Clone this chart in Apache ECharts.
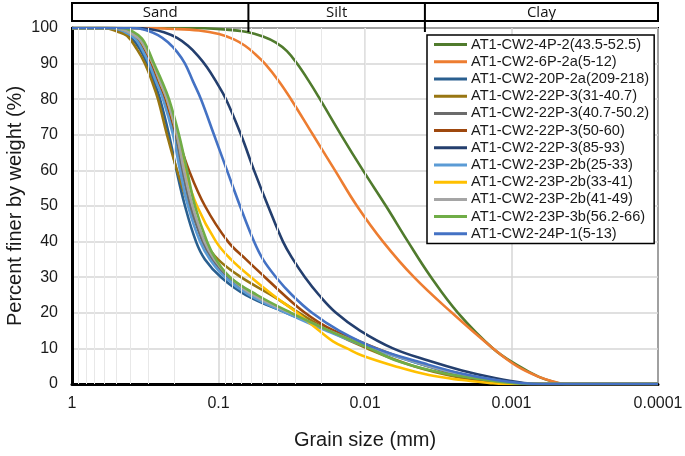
<!DOCTYPE html>
<html><head><meta charset="utf-8">
<script src="https://cdn.jsdelivr.net/npm/echarts/dist/echarts.min.js"></script>
<style>html,body{margin:0;padding:0;background:#fff}#c{width:685px;height:456px}</style>
</head><body><div id="c"></div>
<script>
// ---- data (grain size in mm, percent finer by weight) ----
const seriesNames = [
  'AT1-CW2-4P-2(43.5-52.5)','AT1-CW2-6P-2a(5-12)','AT1-CW2-20P-2a(209-218)','AT1-CW2-22P-3(31-40.7)',
  'AT1-CW2-22P-3(40.7-50.2)','AT1-CW2-22P-3(50-60)','AT1-CW2-22P-3(85-93)','AT1-CW2-23P-2b(25-33)',
  'AT1-CW2-23P-2b(33-41)','AT1-CW2-23P-2b(41-49)','AT1-CW2-23P-3b(56.2-66)','AT1-CW2-24P-1(5-13)'
];
// 4P-2(43.5-52.5)
const s01_size = [1, 0.159, 0.0918, 0.0639, 0.0497, 0.0405, 0.0341, 0.0291, 0.0241, 0.0203, 0.01458, 0.01032, 0.00719, 0.00509, 0.00354, 0.00232, 0.001337, 0.000889, 0.00065, 0.000505, 0.000438, 0.0001];
const s01_pct  = [100, 100, 99.6, 98.9, 97.6, 95.9, 93.5, 90, 85, 80, 70, 60, 50, 40, 30, 20, 10, 5, 2, 0.5, 0, 0];
// 6P-2a(5-12)
const s02_size = [1, 0.298, 0.2177, 0.1358, 0.0992, 0.0784, 0.0659, 0.0563, 0.0482, 0.0386, 0.032, 0.02265, 0.01603, 0.01134, 0.00754, 0.00463, 0.00255, 0.001337, 0.000917, 0.00065, 0.000497, 0.000425, 0.0001];
const s02_pct  = [100, 100, 99.8, 99.3, 98.3, 96.8, 95, 92.7, 90, 85, 80, 70, 60, 50, 40, 30, 20, 10, 5, 2, 0.5, 0, 0];
// 20P-2a(209-218)
const s03_size = [1, 0.577, 0.4628, 0.3895, 0.3433, 0.3076, 0.2757, 0.2508, 0.2177, 0.1935, 0.1693, 0.1424, 0.1237, 0.0961, 0.0649, 0.0346, 0.0245, 0.01552, 0.00868, 0.00442, 0.002355, 0.001317, 0.000961, 0.00076, 0.0001];
const s03_pct  = [100, 100, 99, 97, 94, 90, 85, 80, 70, 60, 50, 40, 35, 30, 25, 20, 17.5, 14, 10, 6, 3, 1, 0.2, 0, 0];
// 22P-3(31-40.7)
const s04_size = [1, 0.6046, 0.493, 0.4214, 0.36, 0.3176, 0.2844, 0.2588, 0.2246, 0.1919, 0.159, 0.1237, 0.1008, 0.0702, 0.0438, 0.0282, 0.0176, 0.0097, 0.00463, 0.002355, 0.001317, 0.000961, 0.0001];
const s04_pct  = [100, 100, 99, 97.8, 94, 90, 85, 80, 70, 60, 50, 40, 35, 30, 25, 20, 15, 10, 5, 2, 0.5, 0, 0];
// 22P-3(40.7-50.2)
const s05_size = [1, 0.5249, 0.428, 0.36, 0.3225, 0.2888, 0.2588, 0.2318, 0.1981, 0.1774, 0.1553, 0.1286, 0.1099, 0.0861, 0.0591, 0.033, 0.01789, 0.00882, 0.00435, 0.00232, 0.001276, 0.000932, 0.000736, 0.0001];
const s05_pct  = [100, 100, 99, 97, 94, 90, 85, 80, 70, 60, 50, 40, 35, 30, 25, 20, 15, 10, 6, 3, 1, 0.2, 0, 0];
// 22P-3(50-60)
const s06_size = [1, 0.5085, 0.4147, 0.3488, 0.3176, 0.2888, 0.2588, 0.2318, 0.1919, 0.159, 0.1237, 0.0861, 0.0649, 0.0482, 0.0357, 0.0257, 0.01817, 0.01099, 0.00624, 0.00366, 0.00211, 0.001317, 0.001008, 0.0001];
const s06_pct  = [100, 100, 99, 97, 94, 90, 85, 80, 70, 60, 50, 40, 35, 30, 25, 20, 16, 12, 8, 4.9, 2, 0.5, 0, 0];
// 22P-3(85-93)
const s07_size = [1, 0.36, 0.298, 0.2355, 0.1919, 0.1615, 0.138, 0.1198, 0.104, 0.0889, 0.0702, 0.0572, 0.0459, 0.0363, 0.031, 0.0257, 0.0206, 0.01578, 0.01082, 0.00644, 0.00366, 0.00218, 0.001276, 0.000822, 0.0006, 0.0001];
const s07_pct  = [100, 100, 99.7, 98.8, 97.2, 95, 92.2, 89, 85, 80, 70, 60, 50, 40, 35, 30, 25, 20, 15, 10, 6.5, 3.8, 1.6, 0.3, 0, 0];
// 23P-2b(25-33)
const s08_size = [1, 0.5417, 0.4417, 0.3715, 0.333, 0.298, 0.2671, 0.2392, 0.2045, 0.1831, 0.1615, 0.1337, 0.1143, 0.0903, 0.0619, 0.0346, 0.01846, 0.0091, 0.00449, 0.00239, 0.001317, 0.000961, 0.00076, 0.0001];
const s08_pct  = [100, 100, 99, 97, 94, 90, 85, 80, 70, 60, 50, 40, 35, 30, 25, 20, 15, 10, 6, 3, 1, 0.2, 0, 0];
// 23P-2b(33-41)
const s09_size = [1, 0.5085, 0.4147, 0.3488, 0.3126, 0.28, 0.2508, 0.2246, 0.1919, 0.1693, 0.1402, 0.104, 0.0822, 0.06, 0.0425, 0.0291, 0.0206, 0.01654, 0.01327, 0.01048, 0.00624, 0.00366, 0.00218, 0.001424, 0.001125, 0.0001];
const s09_pct  = [100, 100, 99, 97, 94, 90, 85, 80, 70, 60, 50, 40, 35, 30, 25, 20, 15, 12, 10, 8, 5, 2.5, 1.1, 0.3, 0, 0];
// 23P-2b(41-49)
const s10_size = [1, 0.5085, 0.4147, 0.3488, 0.3126, 0.28, 0.2508, 0.2246, 0.1919, 0.172, 0.1505, 0.1246, 0.1065, 0.0835, 0.0581, 0.0325, 0.0176, 0.00868, 0.00428, 0.00228, 0.001256, 0.000917, 0.000725, 0.0001];
const s10_pct  = [100, 100, 99, 97, 94, 90, 85, 80, 70, 60, 50, 40, 35, 30, 25, 20, 15, 10, 6, 3, 1, 0.2, 0, 0];
// 23P-3b(56.2-66)
const s11_size = [1, 0.4628, 0.3835, 0.333, 0.3029, 0.2757, 0.2429, 0.2177, 0.1861, 0.1641, 0.1447, 0.1198, 0.104, 0.0835, 0.0546, 0.032, 0.0176, 0.00984, 0.00586, 0.00289, 0.001424, 0.000961, 0.00076, 0.0001];
const s11_pct  = [100, 100, 99, 97, 94, 90, 85, 80, 70, 60, 50, 40, 35, 30, 25, 20, 15, 10.5, 6.3, 3, 1, 0.2, 0, 0];
// 24P-1(5-13)
const s12_size = [1, 0.3774, 0.3076, 0.2588, 0.2212, 0.1919, 0.1693, 0.1493, 0.1317, 0.1073, 0.0875, 0.0713, 0.0572, 0.0497, 0.0405, 0.0315, 0.023, 0.01505, 0.0084, 0.00396, 0.00228, 0.001276, 0.000822, 0.00065, 0.0001];
const s12_pct  = [100, 100, 99.3, 98, 96, 93.3, 90, 85, 80, 70, 60, 50, 40, 35, 30, 25, 20, 15, 10, 5.8, 3.1, 1.1, 0.2, 0, 0];

const yTicks = [0, 10, 20, 30, 40, 50, 60, 70, 80, 90, 100];
const xTickLabels = ['1', '0.1', '0.01', '0.001', '0.0001'];
const classNames = ['Sand', 'Silt', 'Clay'];
const classBounds = [1, 0.0625, 0.0039, 0.0001];

// ---- styles ----
const colors = ['#507b2d','#ed7d31','#2a5f8f','#987612','#6b6b6b','#9e480e','#243f6e','#5b9bd5','#ffc000','#a5a5a5','#70ad47','#4472c4'];
const FONT = 'Liberation Sans, Arial, sans-serif';

const allSizes = [s01_size,s02_size,s03_size,s04_size,s05_size,s06_size,s07_size,s08_size,s09_size,s10_size,s11_size,s12_size];
const allPcts  = [s01_pct,s02_pct,s03_pct,s04_pct,s05_pct,s06_pct,s07_pct,s08_pct,s09_pct,s10_pct,s11_pct,s12_pct];

const minorVals = [];
for (let k = -4; k <= -1; k++) for (let m = 2; m <= 9; m++) minorVals.push(+(m * Math.pow(10, k)).toPrecision(2));

const chart = echarts.init(document.getElementById('c'), null, {renderer: 'canvas'});

const series = seriesNames.map((name, i) => ({
  name, type: 'line', smooth: 0.4, showSymbol: false, symbol: 'none',
  lineStyle: {color: colors[i], width: 2.6}, itemStyle: {color: colors[i]},
  data: allSizes[i].map((s, j) => [s, allPcts[i][j]]), z: 3
}));
series.unshift({
  type: 'line', data: [], silent: true, z: 1,
  markLine: {silent: true, symbol: ['none', 'none'], label: {show: false}, animation: false,
    lineStyle: {color: '#e8e8e8', width: 1, type: 'solid'},
    emphasis: {disabled: true},
    data: minorVals.map(v => ({xAxis: v}))}
});

chart.setOption({
  animation: false,
  backgroundColor: '#fff',
  grid: {left: 72, right: 27, top: 28, bottom: 72, show: true, borderColor: '#000', borderWidth: 2,
    backgroundColor: 'transparent', containLabel: false, outerBoundsMode: 'none'},
  legend: {
    data: seriesNames, orient: 'vertical', left: 427, top: 35,
    icon: 'rect', itemWidth: 33, itemHeight: 3, itemGap: 0,
    padding: [1, 5, 1, 7], borderColor: '#000', borderWidth: 1.5, backgroundColor: '#fff',
    textStyle: {fontFamily: FONT, fontSize: 14.6, color: '#1a1a1a', lineHeight: 17.2, padding: [0, 0, 0, -1]},
    z: 10
  },
  xAxis: {
    type: 'log', logBase: 10, min: 0.0001, max: 1, inverse: true,
    axisLine: {show: true, onZero: false, lineStyle: {color: '#000', width: 3}},
    axisTick: {show: false},
    axisLabel: {formatter: v => { const e = Math.round(-Math.log10(v)); return xTickLabels[e]; },
      fontFamily: FONT, fontSize: 16, color: '#1a1a1a', margin: 12},
    splitLine: {show: true, lineStyle: {color: '#d6d6d6', width: 1.5}},
    name: 'Grain size (mm)', nameLocation: 'middle', nameGap: 46, nameMoveOverlap: false,
    nameTextStyle: {fontFamily: FONT, fontSize: 20, color: '#1a1a1a'}
  },
  yAxis: {
    type: 'value', min: yTicks[0], max: yTicks[yTicks.length - 1], interval: 10,
    axisLine: {show: true, lineStyle: {color: '#000', width: 3}},
    axisTick: {show: false},
    axisLabel: {fontFamily: FONT, fontSize: 16, color: '#1a1a1a', margin: 14},
    splitLine: {show: true, lineStyle: {color: '#d6d6d6', width: 1.5}},
    name: 'Percent finer by weight (%)', nameLocation: 'middle', nameGap: 47, nameRotate: 90, nameMoveOverlap: false,
    nameTextStyle: {fontFamily: FONT, fontSize: 20, color: '#1a1a1a'}
  },
  series
});

// size-class band on top
const px = classBounds.map(v => chart.convertToPixel({xAxisIndex: 0}, v));
const bandTop = 3, bandH = 18;
const g = [{type: 'rect', shape: {x: px[0], y: bandTop, width: px[3] - px[0], height: bandH},
  style: {fill: '#fff', stroke: '#000', lineWidth: 2}, z: 20}];
[1, 2].forEach(i => g.push({type: 'line', shape: {x1: px[i], y1: bandTop, x2: px[i], y2: 32},
  style: {stroke: '#000', lineWidth: 2}, z: 21}));
classNames.forEach((n, i) => g.push({type: 'text', x: (px[i] + px[i + 1]) / 2, y: bandTop + bandH / 2 + 0.5,
  style: {text: n, fill: '#111', font: '15px "Open Sans", sans-serif', align: 'center', verticalAlign: 'middle'}, z: 22}));
chart.setOption({graphic: g});
</script></body></html>
